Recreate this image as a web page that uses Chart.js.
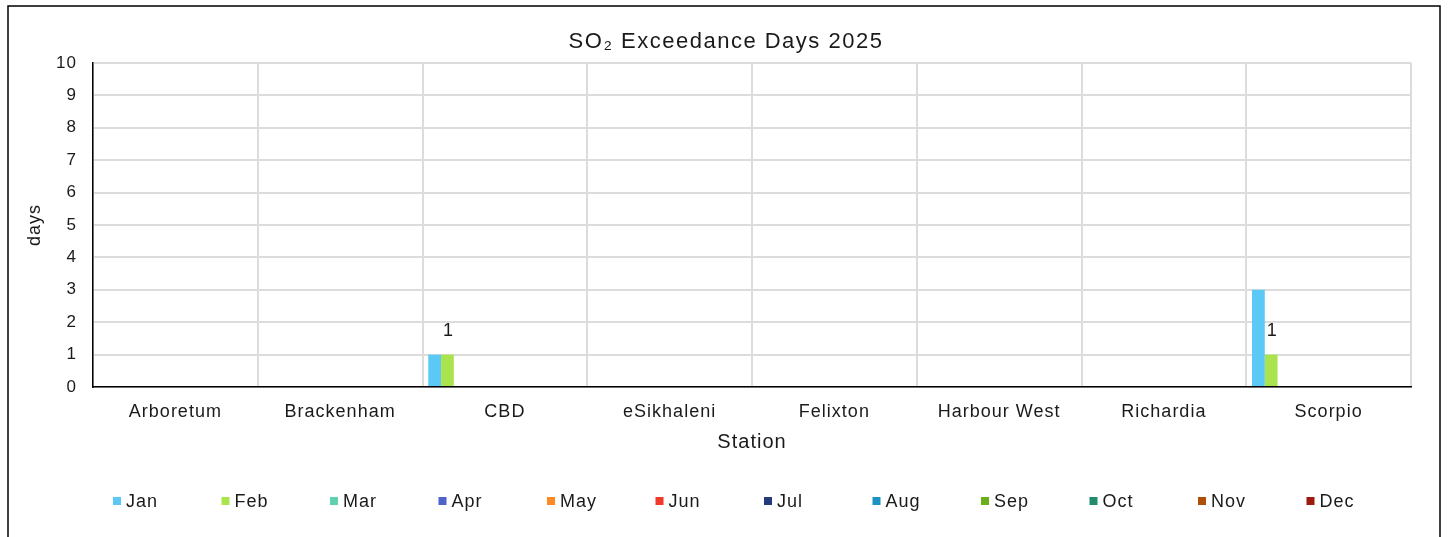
<!DOCTYPE html>
<html>
<head>
<meta charset="utf-8">
<script src="https://cdn.jsdelivr.net/npm/chart.js@4.4.1/dist/chart.umd.min.js"></script>
<style>
  html, body { margin: 0; padding: 0; background: #fff; }
  #wrap { width: 1450px; height: 537px; }
</style>
</head>
<body>
<div id="wrap"><canvas id="so2Chart"></canvas></div>
<script>
// stations on the x axis
const stations = ['Arboretum', 'Brackenham', 'CBD', 'eSikhaleni', 'Felixton', 'Harbour West', 'Richardia', 'Scorpio'];
const months = ['Jan', 'Feb', 'Mar', 'Apr', 'May', 'Jun', 'Jul', 'Aug', 'Sep', 'Oct', 'Nov', 'Dec'];
const monthColors = ['#5bc8f5', '#a9e44f', '#5fd0b0', '#4f63c8', '#ff8a24', '#ef3a2a',
                     '#253a7e', '#1a93c4', '#6aae1a', '#238a6e', '#b04e0a', '#9b1b0e'];

// exceedance days per month, one value per station
const jan = [0, 0, 1, 0, 0, 0, 0, 3];
const feb = [0, 0, 1, 0, 0, 0, 0, 1];
const mar = [0, 0, 0, 0, 0, 0, 0, 0];
const apr = [0, 0, 0, 0, 0, 0, 0, 0];
const may = [0, 0, 0, 0, 0, 0, 0, 0];
const jun = [0, 0, 0, 0, 0, 0, 0, 0];
const jul = [0, 0, 0, 0, 0, 0, 0, 0];
const aug = [0, 0, 0, 0, 0, 0, 0, 0];
const sep = [0, 0, 0, 0, 0, 0, 0, 0];
const oct = [0, 0, 0, 0, 0, 0, 0, 0];
const nov = [0, 0, 0, 0, 0, 0, 0, 0];
const dec = [0, 0, 0, 0, 0, 0, 0, 0];
const monthValues = [jan, feb, mar, apr, may, jun, jul, aug, sep, oct, nov, dec];

// only this series carries value labels in the original
const labelledSeries = ['Feb'];
const chartTitle = 'SO₂ Exceedance Days 2025';

const txt = '#1a1a1a';
const FONT = "'Liberation Sans', Arial, sans-serif";

// frame, title, letter spacing and bottom legend
const frame = {
    id: 'frame',
    beforeDraw(chart) {
        const c = chart.ctx;
        c.letterSpacing = '1px';
        c.save();
        c.strokeStyle = '#000';
        c.lineWidth = 1.5;
        c.strokeRect(8, 6, 1432, 560);
        c.font = '22px ' + FONT;
        c.letterSpacing = '1.5px';
        c.fillStyle = txt;
        c.textAlign = 'center';
        c.textBaseline = 'middle';
        c.fillText(chartTitle, 726, 42);
        c.restore();
    },
    afterDraw(chart) {
        const c = chart.ctx;
        c.save();
        c.font = '18px ' + FONT;
        c.textBaseline = 'middle';
        c.textAlign = 'left';
        chart.data.datasets.forEach((ds, i) => {
            const x = 113 + i * 108.5, y = 501;
            c.fillStyle = ds.backgroundColor;
            c.fillRect(x, y - 4, 8, 8);
            c.fillStyle = txt;
            c.fillText(ds.label, x + 13, y + 1);
        });
        c.restore();
    }
};

// value labels above the labelled bars
const valueLabels = {
    id: 'valueLabels',
    afterDatasetsDraw(chart) {
        const c = chart.ctx;
        c.save();
        c.font = '18px ' + FONT;
        c.fillStyle = txt;
        c.textAlign = 'center';
        c.textBaseline = 'middle';
        chart.data.datasets.forEach((ds, i) => {
            if (!labelledSeries.includes(ds.label)) return;
            chart.getDatasetMeta(i).data.forEach((bar, j) => {
                if (ds.data[j] > 0) c.fillText(ds.data[j], bar.x + 1, bar.y - 24);
            });
        });
        c.restore();
    }
};

var ctx = document.getElementById('so2Chart').getContext('2d');
var so2Chart = new Chart(ctx, {
    type: 'bar',
    data: {
        labels: stations,
        datasets: months.map((m, i) => ({
            label: m,
            data: monthValues[i],
            backgroundColor: monthColors[i],
            borderWidth: 0,
            categoryPercentage: 0.93,
            barPercentage: 1
        }))
    },
    options: {
        responsive: true,
        maintainAspectRatio: false,
        animation: false,
        layout: { padding: { left: 20, right: 39, top: 63, bottom: 75 } },
        plugins: {
            legend: { display: false },
            tooltip: { enabled: false },
            title: { display: false }
        },
        scales: {
            x: {
                afterFit: s => { s.height = 75; },
                grid: { color: '#dcdcdc', lineWidth: 2, drawTicks: false },
                border: { color: '#000', width: 1.5 },
                ticks: { color: txt, padding: 14, maxRotation: 0, font: { family: FONT, size: 18 } },
                title: {
                    display: true, text: 'Station', color: txt,
                    font: { family: FONT, size: 20 }, padding: { top: 0, bottom: 8 }
                }
            },
            y: {
                min: 0,
                max: 10,
                afterFit: s => { s.width = 73; },
                grid: { color: '#dcdcdc', lineWidth: 2, drawTicks: false },
                border: { color: '#000', width: 1.5 },
                ticks: { stepSize: 1, color: txt, padding: 16, font: { family: FONT, size: 17 } },
                title: {
                    display: true, text: 'days', color: txt,
                    font: { family: FONT, size: 18 }, padding: { top: 4, bottom: 0 }
                }
            }
        }
    },
    plugins: [frame, valueLabels]
});
</script>
</body>
</html>
